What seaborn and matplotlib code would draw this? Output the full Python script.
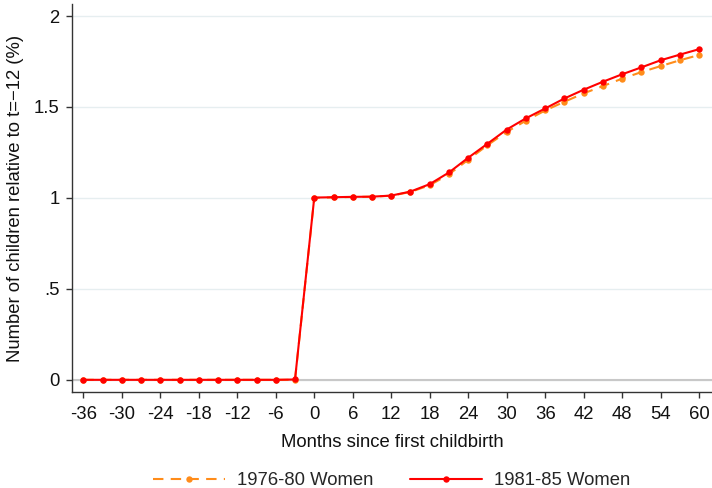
import numpy as np
import pandas as pd
import matplotlib
matplotlib.use("Agg")
import matplotlib.pyplot as plt
import seaborn as sns

months = list(range(-36, 61, 3))

pre_zero = [0.0] * 12
women_1976_80 = pre_zero + [1.000, 1.003, 1.005, 1.007, 1.012, 1.033, 1.070, 1.130, 1.210,
                            1.290, 1.363, 1.425, 1.481, 1.529, 1.575, 1.615, 1.656,
                            1.692, 1.725, 1.757, 1.786]
women_1981_85 = pre_zero[:-1] + [0.002] + [1.002, 1.004, 1.006, 1.007, 1.013, 1.035, 1.076,
                                           1.140, 1.221, 1.298, 1.376, 1.438, 1.492, 1.547,
                                           1.595, 1.639, 1.680, 1.718, 1.757, 1.788, 1.818]

cohort_labels = ["1976-80 Women", "1981-85 Women"]
x_ticks = list(range(-36, 61, 6))
y_ticks = [0, 0.5, 1, 1.5, 2]
y_tick_labels = ["0", ".5", "1", "1.5", "2"]

df = pd.DataFrame({
    "month": months * 2,
    "value": women_1976_80 + women_1981_85,
    "cohort": [cohort_labels[0]] * len(months) + [cohort_labels[1]] * len(months),
})

sns.set_style("white")
plt.rcParams["font.family"] = ["Liberation Sans", "DejaVu Sans"]
FS = 13.3

fig = plt.figure(figsize=(7.12, 4.88), dpi=100)
ax = fig.add_axes([0.1007, 0.1967, 0.8993, 0.795])

colors = {cohort_labels[0]: "#ff8c1a", cohort_labels[1]: "#ff0000"}
styles = {cohort_labels[0]: (0, (5, 3.5)), cohort_labels[1]: "-"}

# reference line at zero
ax.axhline(0, color="#c8c8c8", linewidth=1.5, zorder=1)

for i, lab in enumerate(cohort_labels):
    sub = df[df["cohort"] == lab]
    sns.lineplot(data=sub, x="month", y="value", ax=ax, color=colors[lab],
                 linestyle=styles[lab], marker="o", markersize=4.6,
                 markeredgewidth=0, linewidth=1.5, label=lab, zorder=3 + i)

ax.set_xlim(-37.81, 62.0)
ax.set_ylim(-0.067, 2.066)
ax.set_xticks(x_ticks)
ax.set_xticklabels([str(t) for t in x_ticks])
ax.set_yticks(y_ticks)
ax.set_yticklabels(y_tick_labels)
ax.grid(axis="y", color="#e6eef0", linewidth=1.0, zorder=0)
ax.grid(axis="x", visible=False)

for side in ["top", "right"]:
    ax.spines[side].set_visible(False)
for side in ["left", "bottom"]:
    ax.spines[side].set_color("#333333")
    ax.spines[side].set_linewidth(1.0)

ax.tick_params(axis="both", direction="out", length=4.6, width=1.0, color="#333333",
               labelsize=FS, pad=4.2, left=True, bottom=True, labelcolor="#111111")
ax.tick_params(axis="x", pad=5.5)
ax.set_xlabel("Months since first childbirth", fontsize=FS, labelpad=8, color="#111111")
ax.set_ylabel("Number of children relative to t=\u221212 (%)", fontsize=FS, labelpad=7,
              color="#111111")

handles, labels = ax.get_legend_handles_labels()
ax.legend(handles, labels, loc="center", bbox_to_anchor=(0.5, -0.228),
          ncol=2, frameon=False, fontsize=FS, handlelength=3.9,
          columnspacing=2.0, handletextpad=0.65, borderaxespad=0, borderpad=0)

fig.savefig("out.png", dpi=100, facecolor="white")
